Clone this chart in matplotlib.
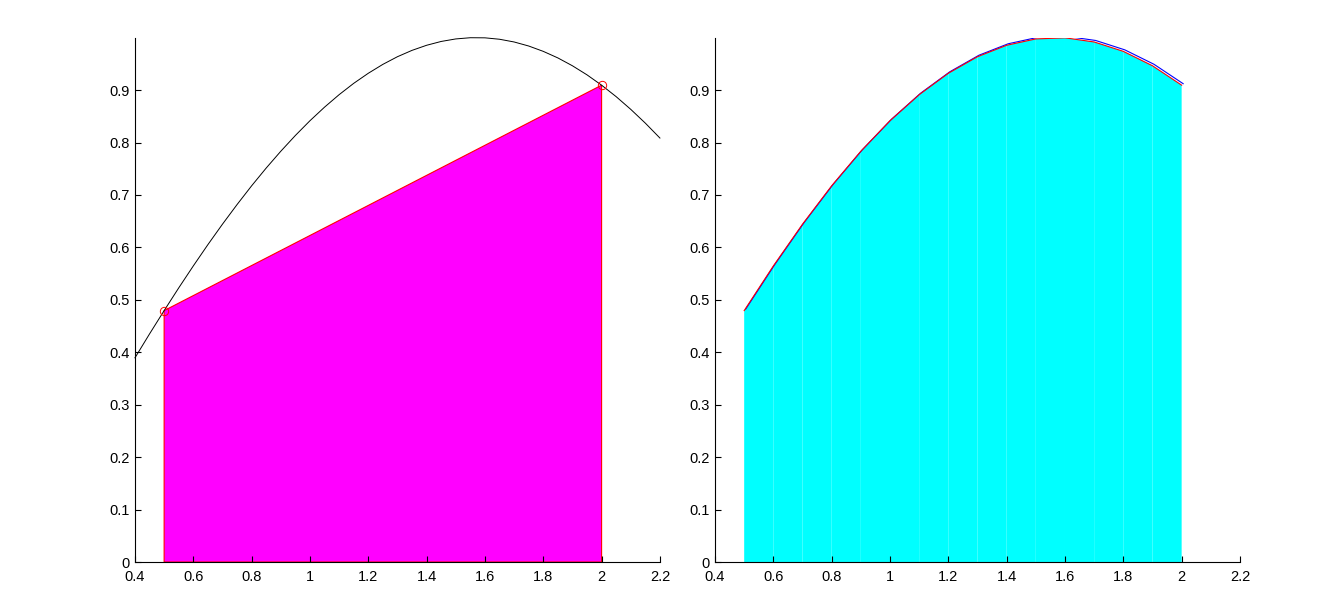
import numpy as np
import matplotlib.pyplot as plt
import matplotlib.transforms as mtransforms

plt.rcParams['font.family'] = ['Liberation Sans', 'DejaVu Sans']
plt.rcParams['font.size'] = 10.5

x_curve = [0.40, 0.45, 0.50, 0.55, 0.60, 0.65, 0.70, 0.75, 0.80, 0.85, 0.90, 0.95,
           1.00, 1.05, 1.10, 1.15, 1.20, 1.25, 1.30, 1.35, 1.40, 1.45, 1.50, 1.55,
           1.60, 1.65, 1.70, 1.75, 1.80, 1.85, 1.90, 1.95, 2.00, 2.05, 2.10, 2.15, 2.20]
y_curve = [0.3894, 0.4350, 0.4794, 0.5227, 0.5646, 0.6052, 0.6442, 0.6816, 0.7174,
           0.7513, 0.7833, 0.8134, 0.8415, 0.8674, 0.8912, 0.9128, 0.9320, 0.9490,
           0.9636, 0.9757, 0.9854, 0.9927, 0.9975, 0.9998, 0.9996, 0.9969, 0.9917,
           0.9840, 0.9738, 0.9613, 0.9463, 0.9290, 0.9093, 0.8874, 0.8632, 0.8369, 0.8085]

# single trapezoid (left)
x_trap = [0.5, 2.0]
y_trap = [0.4794, 0.9093]

# composite trapezoid nodes (right)
x_nodes = [0.5, 0.6, 0.7, 0.8, 0.9, 1.0, 1.1, 1.2, 1.3, 1.4, 1.5, 1.6, 1.7, 1.8, 1.9, 2.0]
y_nodes = [0.4794, 0.5646, 0.6442, 0.7174, 0.7833, 0.8415, 0.8912, 0.9320,
           0.9636, 0.9854, 0.9975, 0.9996, 0.9917, 0.9738, 0.9463, 0.9093]

x_ticks = [0.4, 0.6, 0.8, 1.0, 1.2, 1.4, 1.6, 1.8, 2.0, 2.2]
x_labels = ['0.4', '0.6', '0.8', '1', '1.2', '1.4', '1.6', '1.8', '2', '2.2']
y_ticks = [0.0, 0.1, 0.2, 0.3, 0.4, 0.5, 0.6, 0.7, 0.8, 0.9]
y_labels = ['0', '0.1', '0.2', '0.3', '0.4', '0.5', '0.6', '0.7', '0.8', '0.9']

fig = plt.figure(figsize=(13.18, 6), dpi=100)
ax1 = fig.add_axes([0.1024, 0.0633, 0.3983, 0.874])
ax2 = fig.add_axes([0.5425, 0.0633, 0.3983, 0.874])


def style(ax):
    ax.set_xlim(0.4, 2.2)
    ax.set_ylim(0, 1)
    ax.set_xticks(x_ticks)
    ax.set_xticklabels(x_labels)
    ax.set_yticks(y_ticks)
    ax.set_yticklabels(y_labels)
    ax.spines['top'].set_visible(False)
    ax.spines['right'].set_visible(False)
    for s in ('left', 'bottom'):
        ax.spines[s].set_linewidth(0.8)
    ax.tick_params(direction='in', length=4, width=0.8, colors='black')
    ax.tick_params(axis='x', pad=6)
    ax.tick_params(axis='y', pad=4)


# left: one trapezoid under sin curve
ax1.fill([x_trap[0], x_trap[0], x_trap[1], x_trap[1]],
         [0, y_trap[0], y_trap[1], 0],
         facecolor='#ff00ff', edgecolor='red', linewidth=0.8, zorder=1)
ax1.plot(x_curve, y_curve, color='black', linewidth=0.7, zorder=2, clip_on=False)
ax1.plot(x_trap, y_trap, 'o', markerfacecolor='none', markeredgecolor='red',
         markersize=6, markeredgewidth=0.7, zorder=3, clip_on=False)
style(ax1)

# right: composite trapezoids
for i in range(len(x_nodes) - 1):
    ax2.fill([x_nodes[i], x_nodes[i], x_nodes[i + 1], x_nodes[i + 1]],
             [0, y_nodes[i], y_nodes[i + 1], 0],
             facecolor='cyan', edgecolor='none', linewidth=0, zorder=1)
shift = mtransforms.ScaledTranslation(1.5 / 100, 1.5 / 100, fig.dpi_scale_trans)
ax2.plot(x_nodes, y_nodes, color='blue', linewidth=0.8, zorder=2,
         transform=ax2.transData + shift)
ax2.plot(x_nodes, y_nodes, color='red', linewidth=0.8, zorder=3)
style(ax2)

fig.savefig('out.png', dpi=100)
